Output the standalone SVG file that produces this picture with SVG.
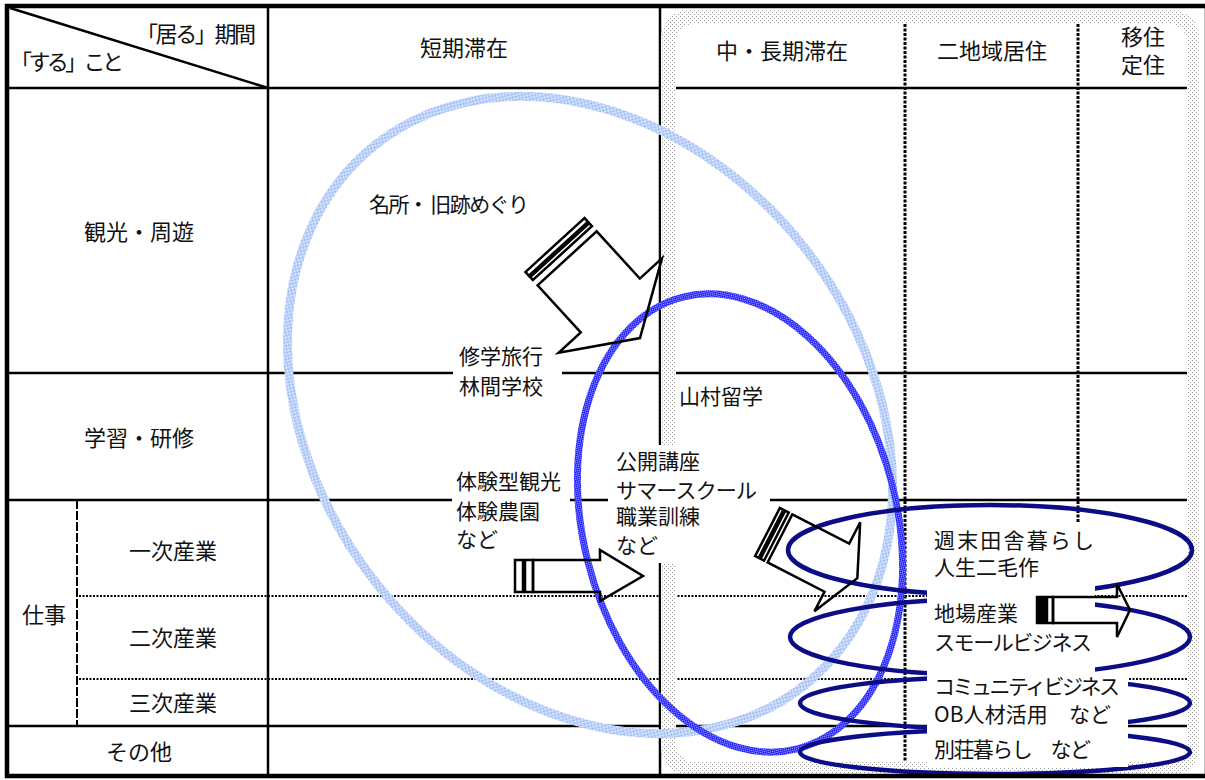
<svg xmlns="http://www.w3.org/2000/svg" width="1205" height="780" viewBox="0 0 1205 780">
<defs>
<pattern id="stip" width="4" height="4" patternUnits="userSpaceOnUse"><rect width="4" height="4" fill="#fff"/><rect x="0" y="0" width="1" height="1" fill="#999"/><rect x="2" y="2" width="1" height="1" fill="#999"/></pattern>
<pattern id="lb" width="2" height="2" patternUnits="userSpaceOnUse"><rect width="2" height="2" fill="#eef3fd"/><rect x="0" y="0" width="1" height="1" fill="#8db1f6"/><rect x="1" y="1" width="1" height="1" fill="#8db1f6"/></pattern>
<pattern id="db" width="2" height="2" patternUnits="userSpaceOnUse"><rect width="2" height="2" fill="#2424ff"/><rect x="1" y="1" width="1" height="1" fill="#b8b8ff"/></pattern>
<style>
.ln{stroke:#000;stroke-width:2.5;fill:none}
.dt{stroke:#000;stroke-width:2;stroke-dasharray:2 1.5;fill:none}
.vd{stroke:#000;stroke-width:3;stroke-dasharray:3 1.5;fill:none}
.ld{stroke:#000;stroke-width:2;stroke-dasharray:9 2;fill:none}
.coil{stroke:#0c0c87;stroke-width:4.5;fill:none}
.box{fill:#fff}
.ar{stroke:#000;stroke-width:2.5;fill:none;stroke-linejoin:miter}
.arf{stroke:#000;stroke-width:2.5;fill:#000}
text{font-family:"Noto Sans CJK JP","Noto Sans",sans-serif;fill:#111}
.h{font-size:22px;text-anchor:middle}
.t{font-size:21px}
</style>
</defs>
<rect width="1205" height="780" fill="#fff"/>

<g id="grid">
<line class="ln" x1="10" y1="8" x2="268" y2="88"/>
<line class="ln" x1="268" y1="5" x2="268" y2="776"/>
<line class="ln" x1="660" y1="5" x2="660" y2="776"/>
<line class="ln" x1="8" y1="88" x2="1200" y2="88"/>
<line class="ln" x1="8" y1="373" x2="1200" y2="373"/>
<line class="ln" x1="8" y1="500" x2="1200" y2="500"/>
<line class="ln" x1="8" y1="726" x2="1200" y2="726"/>
<line class="dt" x1="79" y1="596" x2="1200" y2="596"/>
<line class="dt" x1="79" y1="679" x2="1200" y2="679"/>
<line class="ld" x1="77" y1="500" x2="77" y2="726"/>
<line class="vd" x1="905" y1="24" x2="905" y2="762"/>
<line class="vd" x1="1078" y1="24" x2="1078" y2="762"/>
</g>

<g id="band">
<path fill="url(#stip)" fill-rule="evenodd" d="M691,9 H1170 A30,30 0 0 1 1200,39 V746 A30,30 0 0 1 1170,776 H691 A30,30 0 0 1 661,746 V39 A30,30 0 0 1 691,9 Z M694,24 H1169 A18,18 0 0 1 1187,42 V744 A18,18 0 0 1 1169,762 H694 A18,18 0 0 1 676,744 V42 A18,18 0 0 1 694,24 Z"/>
</g>

<g id="connectors">
<ellipse id="short-stay-loop" cx="590" cy="415" rx="345" ry="272" transform="rotate(51.4 590 415)" fill="none" stroke="url(#lb)" stroke-width="9"/>
<ellipse id="mid-stay-loop" cx="740" cy="523" rx="233" ry="157" transform="rotate(75.8 740 523)" fill="none" stroke="url(#db)" stroke-width="7"/>
<ellipse class="coil" cx="990" cy="550" rx="202" ry="45"/>
<ellipse class="coil" cx="990" cy="637" rx="200" ry="38"/>
<ellipse class="coil" cx="995" cy="703" rx="195" ry="26"/>
<ellipse class="coil" cx="995" cy="752" rx="195" ry="22"/>
</g>

<g id="label-boxes">
<rect class="box" x="453" y="340" width="109" height="62"/>
<rect class="box" x="452" y="463" width="118" height="92"/>
<rect class="box" x="608" y="445" width="162" height="118"/>
<rect class="box" x="927" y="522" width="168" height="153"/>
<rect class="box" x="927" y="675" width="201" height="92"/>
</g>

<g id="arrows">
<g id="arrow-sightseeing" transform="translate(555,245) rotate(47.6)">
<rect class="ar" x="0" y="-40" width="5" height="80"/>
<rect class="ar" x="7" y="-40" width="4" height="80"/>
<polygon class="ar" points="18,-40 82,-40 82,-70 126,0 82,70 82,40 18,40"/>
</g>
<g id="arrow-course" transform="translate(767.5,532) rotate(27.2)">
<rect class="ar" x="0" y="-27" width="4" height="54"/>
<rect class="ar" x="6" y="-27" width="4" height="54"/>
<polygon class="ar" points="14,-27 78,-27 78,-51 101,0 78,49 78,27 14,27"/>
</g>
<g id="arrow-experience" transform="translate(515,576)">
<rect class="ar" x="0" y="-16" width="8" height="32"/>
<rect class="ar" x="10" y="-16" width="8" height="32"/>
<polygon class="ar" points="18,-16 85,-16 85,-26 128,0 85,25 85,16 18,16"/>
</g>
<g id="arrow-industry" transform="translate(1037,610)">
<rect class="arf" x="0" y="-13" width="8" height="26"/>
<rect class="ar" x="10" y="-13" width="6" height="26"/>
<polygon class="ar" points="16,-13 80,-13 80,-26 93,0 80,27 80,13 16,13"/>
</g>
</g>

<g id="headers">
<text class="h" x="136" y="42" style="text-anchor:start" textLength="120">「居る」期間</text>
<text class="h" x="10" y="70" style="text-anchor:start" textLength="114">「する」こと</text>
<text class="h" x="464" y="56">短期滞在</text>
<text class="h" x="782" y="59">中・長期滞在</text>
<text class="h" x="992" y="59">二地域居住</text>
<text class="h" x="1143" y="45">移住</text>
<text class="h" x="1143" y="73">定住</text>
<text class="h" x="139" y="240">観光・周遊</text>
<text class="h" x="139" y="446">学習・研修</text>
<text class="h" x="44" y="623">仕事</text>
<text class="h" x="173" y="559">一次産業</text>
<text class="h" x="173" y="646">二次産業</text>
<text class="h" x="173" y="711">三次産業</text>
<text class="h" x="139" y="760">その他</text>
</g>

<g id="labels">
<text class="t" x="369" y="212" textLength="160">名所・ 旧跡めぐり</text>
<text class="t" x="459" y="364">修学旅行</text>
<text class="t" x="459" y="394">林間学校</text>
<text class="t" x="679" y="404">山村留学</text>
<text class="t" x="456" y="489">体験型観光</text>
<text class="t" x="456" y="519">体験農園</text>
<text class="t" x="456" y="547">など</text>
<text class="t" x="616" y="469">公開講座</text>
<text class="t" x="616" y="498" textLength="141">サマースクール</text>
<text class="t" x="616" y="524">職業訓練</text>
<text class="t" x="616" y="553">など</text>
<text class="t" x="934" y="548" textLength="160">週末田舎暮らし</text>
<text class="t" x="934" y="575">人生二毛作</text>
<text class="t" x="934" y="621">地場産業</text>
<text class="t" x="934" y="650" textLength="158">スモールビジネス</text>
<text class="t" x="934" y="694" textLength="186">コミュニティビジネス</text>
<text class="t" x="934" y="722" textLength="177">OB人材活用　など</text>
<text class="t" x="934" y="757" textLength="157">別荘暮らし　など</text>
</g>

<rect id="frame" x="7" y="6" width="1200" height="770" fill="none" stroke="#000" stroke-width="4.5"/>
</svg>
